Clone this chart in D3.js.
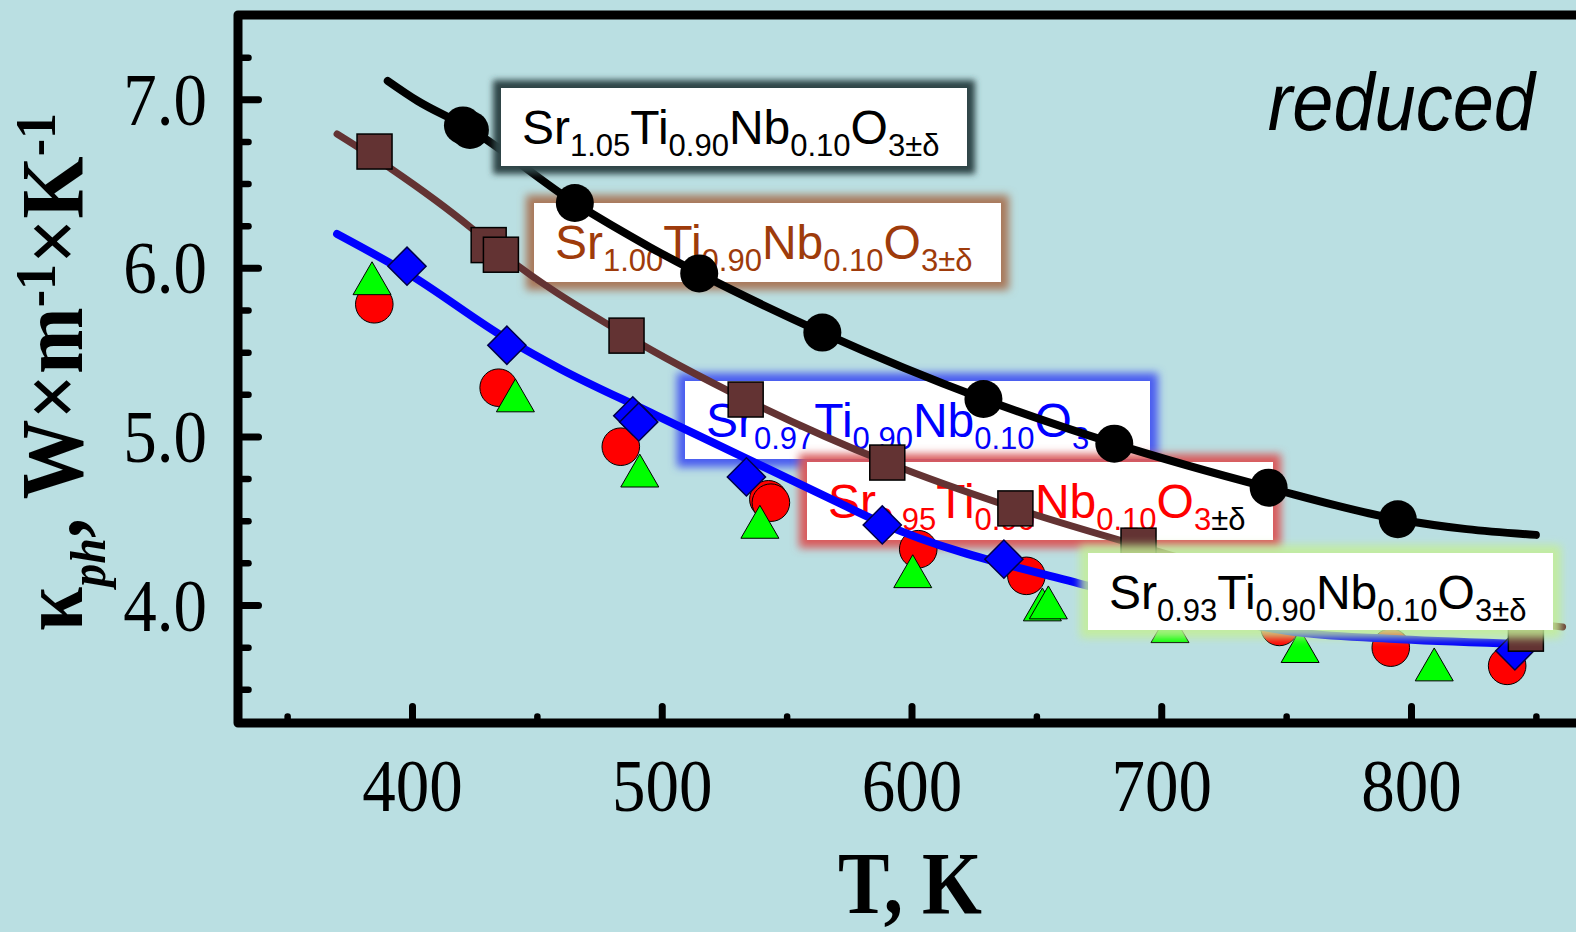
<!DOCTYPE html>
<html>
<head>
<meta charset="utf-8">
<script src="https://cdn.jsdelivr.net/npm/d3@7"></script>
<style>
  html, body { margin: 0; padding: 0; background: #badfe2; overflow: hidden; }
  svg { display: block; }
</style>
</head>
<body>
<svg id="chart" width="1576" height="932"></svg>
<script>
// ---- axis ticks ----
const tempMajor = [400, 500, 600, 700, 800];
const tempMinor = [350, 450, 550, 650, 750, 850];
const kappaMajor = [4.0, 5.0, 6.0, 7.0];
const kappaMinor = [3.5, 3.75, 4.25, 4.5, 4.75, 5.25, 5.5, 5.75, 6.25, 6.5, 6.75, 7.25];

// ---- measured phonon thermal conductivity, [T (K), kappa_ph (W/m/K)] ----
const sr105Pts = [[420.4, 6.845], [423.2, 6.818], [465.2, 6.385], [515.0, 5.967], [564.3, 5.616],
                  [628.8, 5.222], [681.2, 4.957], [743.0, 4.696], [794.7, 4.509]];
const sr100Pts = [[385.0, 6.690], [430.7, 6.135], [435.6, 6.078], [485.9, 5.598], [533.6, 5.219],
                  [590.3, 4.845], [641.6, 4.573], [690.9, 4.352], [846.0, 3.830]];
const sr097Pts = [[398.0, 6.010], [438.0, 5.541], [488.4, 5.122], [490.8, 5.086], [533.9, 4.760],
                  [588.3, 4.475], [637.0, 4.272], [841.6, 3.728]];
const sr095Pts = [[384.9, 5.784], [434.7, 5.289], [483.6, 4.939], [542.7, 4.627], [543.7, 4.607],
                  [602.7, 4.331], [646.0, 4.173], [747.3, 3.870], [791.9, 3.747], [838.5, 3.639]];
const sr093Pts = [[384.0, 5.906], [441.4, 5.211], [491.2, 4.765], [539.3, 4.461], [600.5, 4.168],
                  [652.4, 3.971], [654.8, 3.983], [703.5, 3.842], [755.6, 3.724], [809.3, 3.615]];

// ---- fitted curves ----
const sr105Fit = [[390.3, 7.109], [402.3, 6.990], [421.6, 6.839], [465.2, 6.385], [495.6, 6.120],
                  [515.0, 5.967], [564.3, 5.616], [628.8, 5.222], [681.2, 4.957], [743.0, 4.696],
                  [794.7, 4.509], [822.3, 4.450], [850.0, 4.416]];
const sr100Fit = [[370.0, 6.794], [391.9, 6.585], [423.6, 6.238], [433.2, 6.118], [485.9, 5.598],
                  [533.6, 5.219], [590.3, 4.845], [641.6, 4.573], [690.9, 4.352], [739.0, 4.155],
                  [789.0, 4.006], [846.0, 3.894], [860.7, 3.870]];
const sr097Fit = [[370.0, 6.201], [398.0, 5.970], [438.0, 5.578], [459.6, 5.399], [495.6, 5.141],
                  [571.6, 4.601], [587.6, 4.489], [670.8, 4.113], [720.0, 3.930], [755.6, 3.836],
                  [795.6, 3.797], [850.3, 3.767]];

// ---- compositions: [text, subscript?, colour override] ----
const label105 = [["Sr", 0], ["1.05", 1], ["Ti", 0], ["0.90", 1], ["Nb", 0], ["0.10", 1], ["O", 0], ["3±δ", 1]];
const label100 = [["Sr", 0], ["1.00", 1], ["Ti", 0], ["0.90", 1], ["Nb", 0], ["0.10", 1], ["O", 0], ["3±δ", 1]];
const label097 = [["Sr", 0], ["0.97", 1], ["Ti", 0], ["0.90", 1], ["Nb", 0], ["0.10", 1], ["O", 0], ["3", 1]];
const label095 = [["Sr", 0], ["0.95", 1], ["Ti", 0], ["0.90", 1], ["Nb", 0], ["0.10", 1], ["O", 0], ["3", 1], ["±δ", 1, "#000"]];
const label093 = [["Sr", 0], ["0.93", 1], ["Ti", 0], ["0.90", 1], ["Nb", 0], ["0.10", 1], ["O", 0], ["3±δ", 1]];

const W = 1576, H = 932;
const svg = d3.select("#chart");
const x = d3.scaleLinear().domain([400, 800]).range([412, 1411]);
const y = d3.scaleLinear().domain([3.3, 7.5]).range([723, 15]);
const serif = "'Liberation Serif', 'Times New Roman', serif";
const sans = "'Liberation Sans', Arial, sans-serif";

const defs = svg.append("defs");
const addBlur = (id, sd) => defs.append("filter").attr("id", id)
  .attr("x", "-15%").attr("y", "-40%").attr("width", "130%").attr("height", "180%")
  .append("feGaussianBlur").attr("stdDeviation", sd);
addBlur("glowSoft", 4);
addBlur("glowTight", 3);

svg.append("rect").attr("width", W).attr("height", H).attr("fill", "#badfe2");

// ---- axes ----
function styleTicks(g, width) {
  g.select(".domain").remove();
  g.selectAll("line").attr("stroke", "#000").attr("stroke-width", width).attr("stroke-linecap", "round");
}
const yBase = y(3.3);
svg.append("g").attr("transform", `translate(0,${yBase})`)
  .call(d3.axisBottom(x).tickValues(tempMinor).tickSize(-6.5).tickFormat(() => ""))
  .call(g => styleTicks(g, 6.5));
svg.append("g").attr("transform", `translate(0,${yBase})`)
  .call(d3.axisBottom(x).tickValues(tempMajor).tickSize(-16.5).tickFormat(d3.format("d")))
  .call(g => styleTicks(g, 7))
  .call(g => g.attr("font-family", serif).attr("font-size", 67))
  .call(g => g.selectAll("text").attr("y", null).attr("dy", null).attr("fill", "#000")
    .attr("text-anchor", "middle").attr("transform", "translate(0,88) scale(1,1.12)"));

const xLeft = 238;
svg.append("g").attr("transform", `translate(${xLeft},0)`)
  .call(d3.axisLeft(y).tickValues(kappaMinor).tickSize(-10.5).tickFormat(() => ""))
  .call(g => styleTicks(g, 6.5));
svg.append("g").attr("transform", `translate(${xLeft},0)`)
  .call(d3.axisLeft(y).tickValues(kappaMajor).tickSize(-20.5).tickFormat(d3.format(".1f")))
  .call(g => styleTicks(g, 7))
  .call(g => g.attr("font-family", serif).attr("font-size", 67))
  .call(g => g.selectAll("text").attr("x", null).attr("dy", null).attr("fill", "#000")
    .attr("text-anchor", "end").attr("transform", "translate(-31,25) scale(1,1.11)"));

svg.append("path")
  .attr("d", `M${W + 20},${y(7.5)} H${xLeft} V${yBase} H${W + 20}`)
  .attr("fill", "none").attr("stroke", "#000").attr("stroke-width", 9)
  .attr("stroke-linejoin", "round");

// ---- legend labels ----
function legend(box, parts, color, glow, opts) {
  const g = svg.append("g");
  const pad = opts.pad;
  g.append("rect")
    .attr("x", box[0] - pad).attr("y", box[1] - pad)
    .attr("width", box[2] + 2 * pad).attr("height", box[3] + 2 * pad)
    .attr("fill", glow).attr("opacity", opts.opacity)
    .attr("filter", `url(#${opts.filter})`);
  g.append("rect").attr("x", box[0]).attr("y", box[1])
    .attr("width", box[2]).attr("height", box[3]).attr("fill", "#fff");
  const t = g.append("text").attr("x", box[0] + 21).attr("y", box[1] + 56)
    .attr("font-family", sans).attr("font-size", 48).attr("fill", color);
  let low = false;
  parts.forEach(([txt, sub, c]) => {
    const isSub = !!sub;
    const dy = isSub === low ? 0 : (isSub ? 12 : -12);
    low = isSub;
    const s = t.append("tspan").attr("font-size", isSub ? 31 : 48).attr("dy", dy).text(txt);
    if (c) s.attr("fill", c);
  });
  return g;
}

legend([534, 203, 467, 79], label100, "#9e3b0b", "#a9785a", { pad: 8, opacity: 1, filter: "glowSoft" });
legend([685, 381, 465, 78], label097, "#0000ff", "#4a5bf0", { pad: 8, opacity: 1, filter: "glowSoft" });
legend([807, 462, 466, 78], label095, "#ff0000", "#d95a5c", { pad: 8, opacity: 1, filter: "glowSoft" });

// ---- markers and fitted curves ----
const line = d3.line().x(d => x(d[0])).y(d => y(d[1])).curve(d3.curveMonotoneX);
const plot = svg.append("g");

plot.selectAll(".sr095").data(sr095Pts).join("circle")
  .attr("cx", d => x(d[0])).attr("cy", d => y(d[1])).attr("r", 18.8)
  .attr("fill", "#ff0000").attr("stroke", "#000").attr("stroke-width", 1);

plot.selectAll(".sr093").data(sr093Pts).join("path")
  .attr("d", d3.symbol().type(d3.symbolTriangle).size(625))
  .attr("transform", d => `translate(${x(d[0])},${y(d[1])})`)
  .attr("fill", "#00ff00").attr("stroke", "#000").attr("stroke-width", 1);

plot.append("path").datum(sr097Fit).attr("d", line)
  .attr("fill", "none").attr("stroke", "#0000ff").attr("stroke-width", 8).attr("stroke-linecap", "round");

plot.selectAll(".sr097").data(sr097Pts).join("path")
  .attr("d", d3.symbol().type(d3.symbolSquare).size(27 * 27))
  .attr("transform", d => `translate(${x(d[0])},${y(d[1])}) rotate(45)`)
  .attr("fill", "#0000ff").attr("stroke", "#00004a").attr("stroke-width", 1.5);

plot.append("path").datum(sr100Fit).attr("d", line)
  .attr("fill", "none").attr("stroke", "#633333").attr("stroke-width", 7).attr("stroke-linecap", "round");

plot.selectAll(".sr100").data(sr100Pts).join("rect")
  .attr("x", d => x(d[0]) - 17.5).attr("y", d => y(d[1]) - 17.5)
  .attr("width", 35).attr("height", 35)
  .attr("fill", "#633333").attr("stroke", "#000").attr("stroke-width", 1.5);

plot.append("path").datum(sr105Fit).attr("d", line)
  .attr("fill", "none").attr("stroke", "#000").attr("stroke-width", 8).attr("stroke-linecap", "round");

plot.selectAll(".sr105").data(sr105Pts).join("circle")
  .attr("cx", d => x(d[0])).attr("cy", d => y(d[1])).attr("r", 19)
  .attr("fill", "#000");

// ---- labels drawn above the data ----
legend([501, 88, 466, 78], label105, "#000", "#2f4546", { pad: 8, opacity: 1, filter: "glowTight" });
legend([1088, 553, 465, 77], label093, "#000", "#c4ee96", { pad: 8, opacity: 0.85, filter: "glowSoft" });

svg.append("text")
  .attr("transform", "translate(1535,130) scale(1,1.1)")
  .attr("text-anchor", "end").attr("font-family", sans).attr("font-style", "italic")
  .attr("font-size", 74).attr("fill", "#000").text("reduced");

// axis titles
svg.append("text")
  .attr("transform", "translate(910,913) scale(1,1.14)")
  .attr("text-anchor", "middle").attr("font-family", serif).attr("font-weight", "bold")
  .attr("font-size", 77).attr("fill", "#000").text("T, K");

const yt = svg.append("text")
  .attr("transform", "translate(82,372) scale(1.1,1) rotate(-90)")
  .attr("text-anchor", "middle").attr("font-family", serif).attr("font-weight", "bold")
  .attr("font-size", 80).attr("fill", "#000");
yt.append("tspan").text("κ");
yt.append("tspan").attr("font-style", "italic").attr("font-size", 46).attr("dy", 21).text("ph");
yt.append("tspan").attr("dy", -21).text(", W×m");
yt.append("tspan").attr("font-size", 52).attr("dy", -25).text("-1");
yt.append("tspan").attr("dy", 25).text("×K");
yt.append("tspan").attr("font-size", 52).attr("dy", -25).text("-1");
</script>
</body>
</html>
